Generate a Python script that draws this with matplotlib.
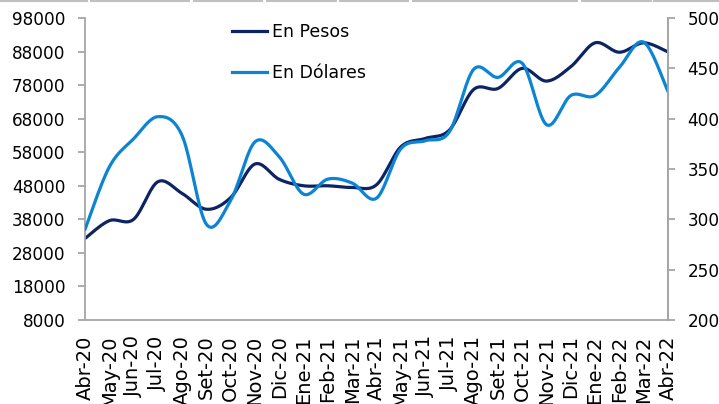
import matplotlib
matplotlib.use("Agg")
import matplotlib.pyplot as plt
from matplotlib.lines import Line2D
import numpy as np

meses = ['Abr-20', 'May-20', 'Jun-20', 'Jul-20', 'Ago-20', 'Set-20', 'Oct-20',
         'Nov-20', 'Dic-20', 'Ene-21', 'Feb-21', 'Mar-21', 'Abr-21', 'May-21',
         'Jun-21', 'Jul-21', 'Ago-21', 'Set-21', 'Oct-21', 'Nov-21', 'Dic-21',
         'Ene-22', 'Feb-22', 'Mar-22', 'Abr-22']
en_pesos = [32300, 37600, 38000, 49200, 45700, 41000, 44500, 54500, 49900,
            48000, 48000, 47500, 48300, 59600, 62100, 64600, 76700, 77000,
            83000, 79200, 83500, 90600, 87800, 90600, 87900]
en_dolares = [290, 352, 380, 402, 383, 295, 319, 377, 362, 325, 340, 336,
              321, 370, 378, 387, 449, 441, 455, 394, 423, 423, 451, 476, 427]

def suavizar(y, n=20):
    # curva tipo Excel (Catmull-Rom via Bezier)
    y = np.asarray(y, dtype=float)
    x = np.arange(len(y), dtype=float)
    pts = np.column_stack([x, y])
    out = [pts[0]]
    for i in range(len(pts) - 1):
        p0 = pts[i - 1] if i > 0 else pts[i]
        p1, p2 = pts[i], pts[i + 1]
        p3 = pts[i + 2] if i + 2 < len(pts) else pts[i + 1]
        c1 = p1 + (p2 - p0) / 6
        c2 = p2 - (p3 - p1) / 6
        t = np.linspace(0, 1, n)[1:, None]
        seg = (1 - t)**3 * p1 + 3 * (1 - t)**2 * t * c1 + 3 * (1 - t) * t**2 * c2 + t**3 * p2
        out.extend(seg)
    out = np.array(out)
    return out[:, 0], out[:, 1]

oscuro = '#0c2461'
claro = '#0b84d4'
gris = '#a6a6a6'

plt.rcParams['font.family'] = 'DejaVu Sans'
fig = plt.figure(figsize=(7.19, 4.04), dpi=100)
ax1 = fig.add_axes([85/719, 1 - 320/404, 583/719, 302/404])
ax2 = ax1.twinx()

xs, ys = suavizar(en_pesos)
ax1.plot(xs, ys, color=oscuro, lw=2.3, solid_capstyle='round')
xs, ys = suavizar(en_dolares)
ax2.plot(xs, ys, color=claro, lw=2.3, solid_capstyle='round')

ax1.set_xlim(0, len(meses) - 1)
ax1.set_ylim(8000, 98000)
ax1.set_yticks(range(8000, 98001, 10000))
ax2.set_ylim(200, 500)
ax2.set_yticks(range(200, 501, 50))
ax1.set_xticks(range(len(meses)))
ax1.set_xticklabels(meses, rotation=90)

for ax in (ax1, ax2):
    for s in ax.spines.values():
        s.set_color(gris)
        s.set_linewidth(1.3)
    ax.spines['top'].set_visible(False)
    ax.tick_params(axis='y', colors=gris, length=5, width=1.3, labelsize=12.2,
                   labelcolor='black', pad=9)
ax1.tick_params(axis='x', length=0, labelsize=14, pad=11)
ax2.spines['left'].set_visible(False)
ax2.spines['bottom'].set_visible(False)

handles = [Line2D([], [], color=oscuro, lw=2.3),
           Line2D([], [], color=claro, lw=2.3)]
ax2.legend(handles, ['En Pesos', 'En Dólares'], loc='upper left',
           bbox_to_anchor=(0.225, 1.035), frameon=False, fontsize=12.5,
           handlelength=2.0, handletextpad=0.3, labelspacing=1.3)

# restos de borde gris arriba
for a, b in [(0, 87), (91, 189), (194, 262), (267, 336), (340, 408),
             (413, 577), (582, 651), (654, 719)]:
    fig.add_artist(Line2D([a/719, b/719], [1 - 0.8/404] * 2, color='#c0c0c0',
                          lw=1.5, transform=fig.transFigure))

fig.savefig('out.png', dpi=100)
